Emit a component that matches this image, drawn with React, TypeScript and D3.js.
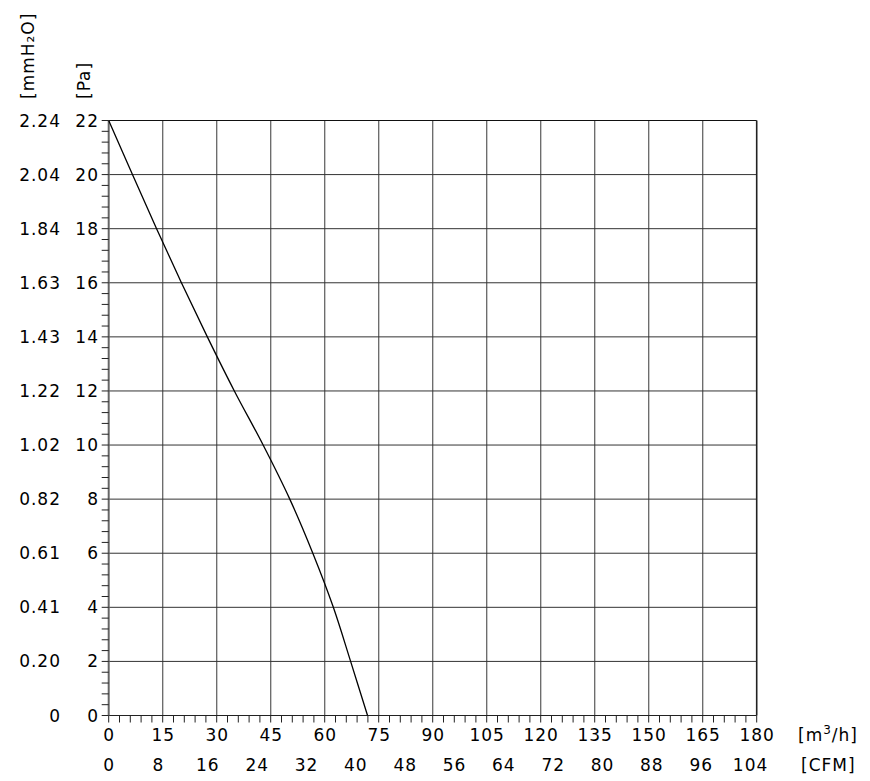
import React from "react";
import * as d3 from "d3";

// Fan curve: airflow [m³/h] vs static pressure [Pa]
const FLOW = [0, 6.6, 13.3, 20.2, 27.4, 34.9, 42.9, 50.3, 56.7, 62.4, 67.2, 71.9];
const PRESSURE = [22, 20, 18, 16, 14, 12, 10, 8, 6, 4, 2, 0];

const FLOW_TICKS = [0, 15, 30, 45, 60, 75, 90, 105, 120, 135, 150, 165, 180];
const CFM_LABELS = [0, 8, 16, 24, 32, 40, 48, 56, 64, 72, 80, 88, 96, 104];
const PA_TICKS = [0, 2, 4, 6, 8, 10, 12, 14, 16, 18, 20, 22];
const MMH2O_LABELS = ["0", "0.20", "0.41", "0.61", "0.82", "1.02", "1.22", "1.43", "1.63", "1.84", "2.04", "2.24"];
const CFM_TO_M3H = 1.713;

const W = 870;
const H = 781;
const FONT = "'DejaVu Sans', Verdana, sans-serif";

export default function App() {
  const x = d3.scaleLinear().domain([0, 180]).range([108.7, 756.7]);
  const y = d3.scaleLinear().domain([0, 22]).range([715.5, 120.5]);

  const minorX = d3.range(0, 180.001, 3);
  const minorY = d3.range(0, 22.001, 0.4);

  const line = d3
    .line<number>()
    .x((_, i) => x(FLOW[i]))
    .y((d) => y(d))
    .curve(d3.curveCatmullRom.alpha(0.5));

  const textStyle = { fontFamily: FONT, fontSize: 17, letterSpacing: 1, fill: "#000" } as const;

  return (
    <svg
      width={W}
      height={H}
      style={{ position: "absolute", left: 0, top: 0, background: "#fff" }}
    >
      {/* vertical grid */}
      {FLOW_TICKS.slice(1, -1).map((t) => (
        <line key={"vx" + t} x1={x(t)} x2={x(t)} y1={y(22)} y2={y(0)} stroke="#666" strokeWidth={1.3} />
      ))}
      {/* horizontal grid */}
      {PA_TICKS.slice(1, -1).map((t) => (
        <line key={"hy" + t} x1={x(0)} x2={x(180)} y1={y(t)} y2={y(t)} stroke="#333" strokeWidth={1} />
      ))}
      {/* frame */}
      <line x1={x(0)} x2={x(180)} y1={y(22)} y2={y(22)} stroke="#111" strokeWidth={1.2} />
      <line x1={x(180)} x2={x(180)} y1={y(22)} y2={y(0)} stroke="#222" strokeWidth={1.6} />
      <line x1={x(0)} x2={x(180)} y1={y(0)} y2={y(0)} stroke="#222" strokeWidth={1.2} />
      <line x1={x(0)} x2={x(0)} y1={y(22)} y2={y(0)} stroke="#666" strokeWidth={2} />

      {/* left ticks */}
      {minorY.map((t, i) => (
        <line key={"ly" + i} x1={x(0) - 7} x2={x(0)} y1={y(t)} y2={y(t)} stroke="#222" strokeWidth={1} />
      ))}
      {/* bottom ticks */}
      {minorX.map((t, i) => (
        <line key={"bx" + i} x1={x(t)} x2={x(t)} y1={y(0)} y2={y(0) + 7} stroke="#222" strokeWidth={1} />
      ))}

      {/* curve */}
      <path d={line(PRESSURE) || ""} fill="none" stroke="#000" strokeWidth={1.3} />

      {/* Pa labels */}
      {PA_TICKS.map((t) => (
        <text key={"pa" + t} x={99} y={y(t) + 6} textAnchor="end" style={textStyle}>
          {t}
        </text>
      ))}
      {/* mmH2O labels */}
      {PA_TICKS.map((t, i) => (
        <text key={"mm" + t} x={61} y={y(t) + 6} textAnchor="end" style={textStyle}>
          {MMH2O_LABELS[i]}
        </text>
      ))}
      {/* m3/h labels */}
      {FLOW_TICKS.map((t) => (
        <text key={"fx" + t} x={x(t) + 0.5} y={741} textAnchor="middle" style={textStyle}>
          {t}
        </text>
      ))}
      {/* CFM labels */}
      {CFM_LABELS.map((c) => (
        <text key={"cfm" + c} x={x(c * CFM_TO_M3H) + 0.5} y={770.5} textAnchor="middle" style={textStyle}>
          {c}
        </text>
      ))}

      {/* unit labels */}
      <text x={798} y={741} style={textStyle}>
        [m<tspan fontSize={12} dy={-7}>3</tspan>
        <tspan dy={7}>/h]</tspan>
      </text>
      <text x={801} y={770.5} style={textStyle}>
        [CFM]
      </text>
      <text transform="translate(33.5,99) rotate(-90)" style={textStyle}>
        [mmH₂O]
      </text>
      <text transform="translate(89.5,99) rotate(-90)" style={textStyle}>
        [Pa]
      </text>
    </svg>
  );
}
